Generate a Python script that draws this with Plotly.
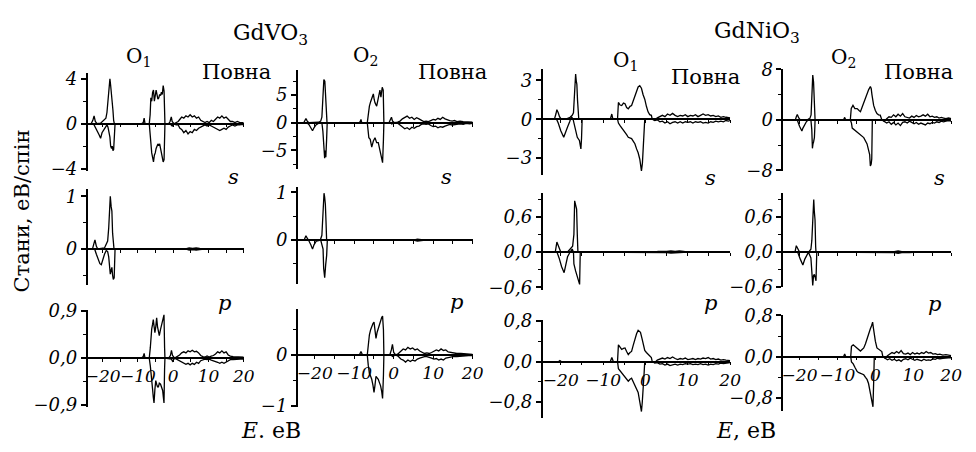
import plotly.graph_objects as go

W, H = 976, 452
FONT = "DejaVu Serif"

# ---------------- data: (E, DOS) pairs, spin up (>0) and spin down (<0) ----------------
# GdVO3, O1
VO1_TOT_UP = [(-24.5,0),(-23.3,0),(-22.8,0.3),(-22.45,0.7),(-22.1,0.2),(-21.6,0),(-20.6,0.05),(-19.6,0.3),(-19.1,0.5),(-18.8,1.0),(-18.5,2.0),(-18.2,3.2),(-17.96,4.0),(-17.75,3.4),(-17.5,2.6),(-17.3,2.4),(-17.1,1.2),(-16.9,0.3),(-16.7,0),(-9.0,0),(-8.5,0.1),(-8.25,0.5),(-8.0,0),(-6.8,0),(-6.55,0.8),(-6.35,2.3),(-6.1,2.0),(-5.85,2.8),(-5.6,3.0),(-5.35,2.0),(-5.1,2.4),(-4.85,3.0),(-4.6,2.6),(-4.35,2.2),(-4.1,2.3),(-3.85,2.6),(-3.6,2.5),(-3.35,2.8),(-3.1,2.6),(-2.85,3.4),(-2.6,2.9),(-2.45,0.8),(-2.35,0),(-1.3,0),(-0.9,0.2),(-0.55,0.6),(-0.3,0.2),(0.2,0),(0.8,0.1),(1.4,0.2),(1.9,0.4),(2.4,0.6),(3.0,0.5),(3.6,0.7),(4.2,0.6),(4.8,0.8),(5.4,0.6),(6.0,0.7),(6.6,0.5),(7.2,0.6),(7.8,0.3),(8.4,0.2),(9.0,0.1),(9.6,0.2),(10.2,0.1),(10.8,0.3),(11.4,0.2),(12.0,0.4),(12.6,0.6),(13.2,0.5),(13.8,0.7),(14.4,0.5),(15.0,0.6),(15.6,0.4),(16.2,0.2),(16.8,0.2),(17.5,0.1),(18.2,0.2),(18.9,0.1),(19.5,0.1),(20.0,0.1)]
VO1_TOT_DN = [(-24.5,0),(-22.8,0),(-22.45,-0.1),(-22.1,-0.3),(-21.6,-0.7),(-21.0,-1.0),(-20.6,-1.3),(-20.2,-0.8),(-19.6,-0.5),(-19.1,-0.3),(-18.8,-0.1),(-18.5,-0.3),(-18.2,-0.7),(-17.96,-1.2),(-17.75,-2.0),(-17.5,-2.2),(-17.3,-2.0),(-17.1,-2.4),(-16.9,-2.3),(-16.7,-1.2),(-16.5,0),(-6.8,0),(-6.55,-1.0),(-6.35,-2.0),(-6.1,-2.6),(-5.85,-3.0),(-5.6,-3.4),(-5.35,-2.8),(-5.1,-2.6),(-4.85,-2.2),(-4.6,-2.0),(-4.35,-1.8),(-4.1,-1.9),(-3.85,-1.8),(-3.6,-2.2),(-3.35,-2.6),(-3.1,-2.9),(-2.85,-3.4),(-2.6,-3.2),(-2.45,-1.0),(-2.35,0),(-0.9,0),(-0.55,-0.1),(-0.3,-0.2),(0.2,0),(0.8,-0.1),(1.4,-0.1),(1.9,-0.4),(2.4,-0.5),(3.0,-0.8),(3.6,-0.6),(4.2,-0.9),(4.8,-0.7),(5.4,-0.8),(6.0,-0.5),(6.6,-0.6),(7.2,-0.4),(7.8,-0.3),(8.4,-0.2),(9.0,-0.1),(9.6,-0.2),(10.2,-0.1),(10.8,-0.2),(11.4,-0.3),(12.0,-0.4),(12.6,-0.5),(13.2,-0.6),(13.8,-0.5),(14.4,-0.4),(15.0,-0.5),(15.6,-0.3),(16.2,-0.2),(16.8,-0.1),(17.5,-0.2),(18.2,-0.1),(18.9,-0.1),(19.5,-0.05),(20.0,-0.1)]
VO1_S_UP = [(-24.5,0),(-22.9,0),(-22.5,0.1),(-22.2,0.17),(-21.8,0.05),(-21.4,0),(-19.5,0.02),(-19.0,0.08),(-18.6,0.15),(-18.3,0.4),(-18.05,0.8),(-17.85,1.0),(-17.6,0.8),(-17.4,0.72),(-17.2,0.3),(-17.0,0.05),(-16.8,0),(3.5,0),(4.5,0.02),(5.5,0.01),(6.5,0.02),(7.5,0.01),(8.5,0.01),(9.5,0),(20.0,0)]
VO1_S_DN = [(-24.5,0),(-22.3,0),(-21.8,-0.1),(-21.3,-0.2),(-20.8,-0.28),(-20.4,-0.3),(-20.0,-0.2),(-19.5,-0.1),(-19.0,-0.03),(-18.6,-0.05),(-18.3,-0.15),(-18.05,-0.3),(-17.85,-0.48),(-17.6,-0.4),(-17.4,-0.35),(-17.2,-0.5),(-17.0,-0.58),(-16.75,-0.55),(-16.5,0),(3.5,0),(4.5,-0.02),(5.5,-0.01),(6.5,-0.02),(7.5,-0.01),(9.5,0),(20.0,0)]
VO1_P_UP = [(-24.5,0),(-9.0,0),(-8.5,0.03),(-8.25,0.09),(-8.0,0),(-6.8,0),(-6.5,0.2),(-6.3,0.5),(-6.1,0.56),(-5.85,0.65),(-5.65,0.74),(-5.45,0.62),(-5.2,0.49),(-4.95,0.6),(-4.7,0.77),(-4.45,0.6),(-4.2,0.5),(-3.95,0.43),(-3.6,0.55),(-3.3,0.62),(-3.0,0.7),(-2.8,0.78),(-2.62,0.83),(-2.45,0.2),(-2.35,0),(-1.3,0),(-0.8,0.05),(-0.5,0.15),(-0.2,0.05),(0.4,0),(1.0,0.02),(1.8,0.06),(2.4,0.1),(3.0,0.12),(3.6,0.1),(4.2,0.14),(4.8,0.12),(5.4,0.15),(6.0,0.12),(6.6,0.13),(7.2,0.1),(7.8,0.05),(8.4,0.03),(9.0,0.02),(9.6,0.04),(10.2,0.02),(10.8,0.04),(11.4,0.05),(12.0,0.08),(12.6,0.12),(13.2,0.1),(13.8,0.14),(14.4,0.1),(15.0,0.12),(15.6,0.06),(16.2,0.04),(17.0,0.03),(18.0,0.03),(19.0,0.02),(20.0,0.02)]
VO1_P_DN = [(-24.5,0),(-6.8,0),(-6.5,-0.15),(-6.3,-0.35),(-6.1,-0.43),(-5.85,-0.6),(-5.65,-0.75),(-5.45,-0.86),(-5.2,-0.6),(-4.95,-0.43),(-4.7,-0.5),(-4.45,-0.55),(-4.2,-0.55),(-3.95,-0.48),(-3.6,-0.5),(-3.3,-0.58),(-3.0,-0.62),(-2.8,-0.75),(-2.62,-0.86),(-2.45,-0.2),(-2.35,0),(-0.5,-0.02),(-0.2,-0.06),(0.4,0),(1.0,-0.02),(1.8,-0.05),(2.4,-0.08),(3.0,-0.1),(3.6,-0.12),(4.2,-0.1),(4.8,-0.13),(5.4,-0.1),(6.0,-0.12),(6.6,-0.08),(7.2,-0.1),(7.8,-0.05),(8.4,-0.03),(9.0,-0.02),(9.6,-0.03),(10.2,-0.02),(10.8,-0.04),(11.4,-0.05),(12.0,-0.07),(12.6,-0.08),(13.2,-0.1),(13.8,-0.08),(14.4,-0.1),(15.0,-0.08),(15.6,-0.05),(16.2,-0.03),(17.0,-0.03),(18.0,-0.02),(19.0,-0.02),(20.0,-0.02)]

# GdVO3, O2
VO2_TOT_UP = [(-24.5,0),(-22.8,0),(-22.5,0.4),(-22.24,0.75),(-21.9,0.3),(-21.5,0),(-19.0,0.1),(-18.5,0.3),(-18.2,1.0),(-17.95,4.0),(-17.7,7.8),(-17.45,7.5),(-17.25,4.5),(-17.05,0.8),(-16.9,0),(-8.8,0),(-8.5,0.2),(-8.3,0.6),(-8.1,0),(-6.7,0),(-6.55,1.0),(-6.16,3.0),(-5.85,3.8),(-5.57,4.5),(-5.16,5.2),(-4.95,4.2),(-4.74,3.6),(-4.32,3.0),(-3.91,4.8),(-3.49,5.9),(-3.24,4.6),(-2.91,6.4),(-2.66,5.9),(-2.55,2.0),(-2.49,0),(-1.2,0),(-0.8,0.5),(-0.57,1.0),(-0.3,0.3),(0.2,0),(1.0,0.1),(1.6,0.3),(2.2,0.7),(2.8,0.9),(3.4,1.2),(4.0,0.8),(4.6,1.0),(5.2,0.6),(5.8,0.9),(6.4,0.7),(7.0,0.4),(7.6,0.2),(8.2,0.3),(8.8,0.2),(9.4,0.4),(10.0,0.6),(10.6,0.5),(11.2,0.8),(11.8,0.6),(12.4,1.0),(13.0,0.7),(13.6,0.5),(14.2,0.4),(14.8,0.3),(15.4,0.4),(16.0,0.2),(16.8,0.3),(17.6,0.2),(18.4,0.2),(19.2,0.1),(20.0,0.1)]
VO2_TOT_DN = [(-24.5,0),(-22.0,0),(-21.5,-0.3),(-21.0,-0.8),(-20.57,-1.44),(-20.2,-0.9),(-19.7,-0.4),(-19.0,-0.1),(-18.2,0),(-17.95,-1.5),(-17.75,-4.5),(-17.5,-6.4),(-17.35,-5.0),(-17.2,-6.2),(-17.0,-3.0),(-16.85,0),(-6.7,0),(-6.57,-1.5),(-6.3,-2.7),(-5.95,-3.0),(-5.57,-4.4),(-5.16,-3.3),(-4.74,-2.7),(-4.32,-3.6),(-3.91,-3.6),(-3.49,-5.0),(-3.1,-6.1),(-2.82,-7.2),(-2.6,-3.0),(-2.49,0),(-0.8,0),(-0.5,-0.2),(0.2,0),(1.0,-0.1),(1.6,-0.4),(2.2,-0.8),(2.8,-1.1),(3.4,-0.9),(4.0,-1.2),(4.6,-0.8),(5.2,-1.0),(5.8,-0.7),(6.4,-0.6),(7.0,-0.3),(7.6,-0.2),(8.2,-0.3),(8.8,-0.2),(9.4,-0.5),(10.0,-0.7),(10.6,-0.6),(11.2,-0.9),(11.8,-0.7),(12.4,-0.8),(13.0,-0.6),(13.6,-0.5),(14.2,-0.3),(14.8,-0.4),(15.4,-0.3),(16.0,-0.2),(16.8,-0.2),(17.6,-0.3),(18.4,-0.1),(19.2,-0.2),(20.0,-0.1)]
VO2_S_UP = [(-24.5,0),(-22.7,0),(-22.24,0.09),(-21.8,0.02),(-21.4,0),(-18.6,0),(-18.2,0.1),(-18.0,0.4),(-17.82,0.88),(-17.66,0.98),(-17.5,0.9),(-17.32,0.75),(-17.16,0.4),(-17.0,0),(5.0,0),(6.0,0.02),(7.0,0.01),(8.0,0),(20.0,0)]
VO2_S_DN = [(-24.5,0),(-21.6,0),(-21.0,-0.1),(-20.57,-0.19),(-20.2,-0.1),(-19.6,-0.02),(-18.5,0),(-17.9,-0.19),(-17.75,-0.59),(-17.49,-0.79),(-17.24,-0.52),(-16.99,-0.32),(-16.82,0),(5.0,0),(6.0,-0.02),(7.0,-0.01),(8.0,0),(20.0,0)]
VO2_P_UP = [(-24.5,0),(-8.7,0),(-8.3,0.07),(-7.9,0),(-6.7,0),(-6.45,0.2),(-6.16,0.4),(-5.85,0.5),(-5.57,0.58),(-5.25,0.62),(-4.99,0.65),(-4.75,0.5),(-4.49,0.33),(-4.2,0.45),(-3.91,0.52),(-3.6,0.6),(-3.32,0.71),(-3.05,0.74),(-2.82,0.77),(-2.6,0.5),(-2.49,0),(-1.0,0),(-0.6,0.1),(-0.32,0.21),(0.0,0.05),(0.5,0),(1.2,0.03),(1.8,0.08),(2.4,0.12),(3.0,0.1),(3.6,0.15),(4.2,0.12),(4.8,0.14),(5.4,0.1),(6.0,0.12),(6.6,0.08),(7.2,0.05),(7.8,0.03),(8.4,0.04),(9.0,0.03),(9.6,0.05),(10.2,0.07),(10.8,0.1),(11.4,0.08),(12.0,0.12),(12.6,0.09),(13.2,0.1),(13.8,0.06),(14.4,0.05),(15.0,0.04),(16.0,0.03),(17.0,0.03),(18.0,0.02),(19.0,0.02),(20.0,0.01)]
VO2_P_DN = [(-24.5,0),(-6.7,0),(-6.45,-0.2),(-6.16,-0.36),(-5.85,-0.42),(-5.57,-0.48),(-5.25,-0.6),(-4.99,-0.74),(-4.75,-0.6),(-4.49,-0.42),(-4.2,-0.45),(-3.91,-0.48),(-3.6,-0.55),(-3.32,-0.61),(-3.05,-0.72),(-2.82,-0.86),(-2.6,-0.4),(-2.49,0),(-0.6,0),(-0.32,-0.03),(0.5,0),(1.2,-0.03),(1.8,-0.08),(2.4,-0.1),(3.0,-0.14),(3.6,-0.1),(4.2,-0.13),(4.8,-0.1),(5.4,-0.12),(6.0,-0.08),(6.6,-0.06),(7.2,-0.04),(7.8,-0.03),(8.4,-0.03),(9.0,-0.04),(9.6,-0.06),(10.2,-0.08),(10.8,-0.07),(11.4,-0.1),(12.0,-0.08),(12.6,-0.1),(13.2,-0.06),(13.8,-0.05),(14.4,-0.04),(15.0,-0.03),(16.0,-0.03),(17.0,-0.02),(18.0,-0.02),(19.0,-0.01),(20.0,-0.01)]

# GdNiO3, O1
NI1_TOT_UP = [(-24.5,0),(-21.5,0),(-21.15,0.4),(-20.92,0.74),(-20.6,0.5),(-20.3,0.2),(-19.9,0),(-18.5,0.05),(-17.8,0.15),(-17.3,0.3),(-17.0,0.5),(-16.8,1.5),(-16.65,2.8),(-16.49,3.5),(-16.35,3.0),(-16.2,2.7),(-16.05,1.5),(-15.9,0.4),(-15.75,0),(-8.3,0),(-7.95,0.4),(-7.7,0),(-6.6,0),(-6.39,1.3),(-6.0,1.1),(-5.61,1.06),(-5.2,1.25),(-4.83,1.2),(-4.45,0.9),(-4.06,0.8),(-3.65,1.0),(-3.28,1.06),(-2.9,1.4),(-2.5,1.8),(-2.1,2.2),(-1.73,2.5),(-1.35,2.6),(-0.95,2.4),(-0.56,1.9),(-0.17,1.55),(0.22,1.0),(0.61,0.57),(1.0,0.35),(1.39,0.3),(1.6,0),(2.2,-0.05),(2.8,0.1),(3.4,0.2),(4.0,0.3),(4.6,0.2),(5.2,0.4),(5.8,0.3),(6.4,0.45),(7.0,0.3),(7.6,0.2),(8.2,0.3),(8.8,0.25),(9.4,0.35),(10.0,0.2),(10.6,0.3),(11.2,0.25),(11.8,0.35),(12.4,0.2),(13.0,0.3),(13.6,0.4),(14.2,0.3),(14.8,0.35),(15.4,0.25),(16.0,0.3),(16.6,0.2),(17.2,0.25),(17.8,0.15),(18.4,0.2),(19.0,0.15),(19.6,0.1),(20.0,0.1)]
NI1_TOT_DN = [(-24.5,0),(-21.0,0),(-20.6,-0.3),(-20.0,-0.9),(-19.3,-1.4),(-18.9,-1.0),(-18.4,-0.6),(-17.9,-0.2),(-17.5,0.2),(-17.1,0),(-16.8,-0.5),(-16.5,-0.9),(-16.1,-1.4),(-15.6,-1.65),(-15.25,-2.3),(-15.1,-1.5),(-14.95,0),(-6.6,0),(-6.39,-0.3),(-6.0,-0.5),(-5.61,-0.66),(-5.2,-0.85),(-4.83,-1.04),(-4.45,-1.2),(-4.06,-1.4),(-3.65,-1.45),(-3.28,-1.5),(-2.9,-1.7),(-2.5,-1.9),(-2.1,-2.3),(-1.73,-2.6),(-1.34,-3.1),(-1.1,-3.6),(-0.95,-4.0),(-0.72,-3.4),(-0.4,-1.6),(-0.17,0),(1.6,0),(2.2,-0.1),(2.8,-0.05),(3.4,-0.2),(4.0,-0.15),(4.6,-0.3),(5.2,-0.2),(5.8,-0.35),(6.4,-0.25),(7.0,-0.2),(7.6,-0.3),(8.2,-0.2),(8.8,-0.3),(9.4,-0.2),(10.0,-0.25),(10.6,-0.2),(11.2,-0.3),(11.8,-0.2),(12.4,-0.25),(13.0,-0.2),(13.6,-0.3),(14.2,-0.25),(14.8,-0.3),(15.4,-0.2),(16.0,-0.25),(16.6,-0.15),(17.2,-0.2),(17.8,-0.15),(18.4,-0.2),(19.0,-0.1),(19.6,-0.15),(20.0,-0.1)]
NI1_S_UP = [(-24.5,0),(-21.3,0),(-20.92,0.17),(-20.5,0.08),(-20.0,0),(-18.4,0),(-17.8,0.05),(-17.2,0.1),(-16.9,0.3),(-16.72,0.87),(-16.5,0.8),(-16.26,0.73),(-16.1,0.3),(-15.95,0),(2.0,0),(3.0,0.01),(5.0,0.01),(6.0,0.02),(7.0,0.01),(8.0,0.02),(9.0,0.01),(10.0,0),(20.0,0)]
NI1_S_DN = [(-24.5,0),(-20.9,0),(-20.4,-0.1),(-19.8,-0.25),(-19.21,-0.35),(-18.8,-0.2),(-18.4,-0.08),(-17.8,0),(-17.3,0.05),(-17.0,0),(-16.9,-0.2),(-16.5,-0.32),(-16.26,-0.38),(-15.9,-0.43),(-15.55,-0.55),(-15.4,0),(2.0,0),(3.0,-0.01),(5.0,-0.01),(6.0,-0.02),(7.0,-0.01),(8.0,-0.01),(10.0,0),(20.0,0)]
NI1_P_UP = [(-24.5,0),(-20.5,0),(-20.2,0.02),(-19.9,0),(-8.3,0),(-7.94,0.08),(-7.6,0),(-6.6,0),(-6.39,0.33),(-6.0,0.28),(-5.61,0.24),(-5.2,0.26),(-4.83,0.27),(-4.45,0.2),(-4.06,0.14),(-3.65,0.18),(-3.28,0.2),(-2.9,0.32),(-2.5,0.46),(-2.1,0.55),(-1.73,0.62),(-1.45,0.6),(-1.18,0.58),(-0.8,0.45),(-0.56,0.33),(-0.17,0.22),(0.22,0.18),(0.61,0.14),(1.0,0.11),(1.39,0.08),(1.6,0),(2.2,-0.02),(2.8,0.03),(3.4,0.05),(4.0,0.07),(4.6,0.05),(5.2,0.08),(5.8,0.06),(6.4,0.09),(7.0,0.06),(7.6,0.04),(8.2,0.06),(8.8,0.05),(9.4,0.07),(10.0,0.04),(10.6,0.05),(11.2,0.06),(11.8,0.04),(12.4,0.06),(13.0,0.05),(13.6,0.07),(14.2,0.06),(14.8,0.08),(15.4,0.05),(16.0,0.06),(16.6,0.04),(17.2,0.05),(17.8,0.03),(18.4,0.04),(19.0,0.03),(20.0,0.02)]
NI1_P_DN = [(-24.5,0),(-6.6,0),(-6.39,-0.14),(-6.0,-0.18),(-5.61,-0.23),(-5.2,-0.27),(-4.83,-0.3),(-4.45,-0.35),(-4.06,-0.39),(-3.65,-0.35),(-3.28,-0.33),(-2.9,-0.4),(-2.5,-0.48),(-2.1,-0.55),(-1.73,-0.61),(-1.34,-0.8),(-1.1,-0.9),(-0.95,-0.99),(-0.75,-0.8),(-0.56,-0.6),(-0.3,-0.2),(-0.17,0),(1.6,0),(2.2,-0.03),(2.8,-0.02),(3.4,-0.05),(4.0,-0.04),(4.6,-0.07),(5.2,-0.05),(5.8,-0.08),(6.4,-0.06),(7.0,-0.05),(7.6,-0.07),(8.2,-0.05),(8.8,-0.06),(9.4,-0.04),(10.0,-0.05),(10.6,-0.04),(11.2,-0.06),(11.8,-0.05),(12.4,-0.06),(13.0,-0.04),(13.6,-0.06),(14.2,-0.05),(14.8,-0.07),(15.4,-0.05),(16.0,-0.06),(16.6,-0.04),(17.2,-0.05),(17.8,-0.03),(18.4,-0.04),(19.0,-0.03),(20.0,-0.02)]

# GdNiO3, O2
NI2_TOT_UP = [(-24.5,0),(-21.1,0),(-20.85,0.5),(-20.59,0.86),(-20.2,0.3),(-19.8,0),(-18.0,0),(-17.3,0.2),(-16.95,0.8),(-16.75,3.5),(-16.51,7.1),(-16.3,6.0),(-16.1,2.0),(-15.9,0),(-8.4,0),(-8.09,0.4),(-7.8,0),(-6.6,0),(-6.36,1.8),(-5.9,2.3),(-5.4,1.8),(-4.8,1.8),(-4.3,1.5),(-3.93,1.3),(-3.5,2.0),(-3.06,2.8),(-2.6,3.5),(-2.19,4.3),(-1.76,4.8),(-1.32,5.3),(-1.1,5.0),(-0.9,4.0),(-0.45,2.3),(0.0,1.5),(0.42,1.0),(0.85,0.8),(1.28,0.75),(1.72,0),(2.4,-0.2),(3.0,0.2),(3.6,0.5),(4.2,0.4),(4.8,0.8),(5.4,0.5),(6.0,0.9),(6.6,0.6),(7.2,1.0),(7.8,0.5),(8.4,0.4),(9.0,0.3),(9.6,0.6),(10.2,0.4),(10.8,0.7),(11.4,0.5),(12.0,0.6),(12.6,0.8),(13.2,0.6),(13.8,0.9),(14.4,0.5),(15.0,0.6),(15.6,0.4),(16.2,0.5),(16.8,0.3),(17.4,0.4),(18.0,0.3),(18.6,0.2),(19.3,0.3),(20.0,0.2)]
NI2_TOT_DN = [(-24.5,0),(-20.6,0),(-20.0,-1.0),(-19.38,-1.77),(-19.1,-1.3),(-18.6,-0.7),(-18.2,-0.3),(-17.6,0.1),(-17.0,0),(-16.77,-1.5),(-16.6,-4.5),(-16.45,-3.8),(-16.3,-3.5),(-16.08,-2.8),(-15.95,-1.0),(-15.9,0),(-6.6,0),(-6.3,-0.5),(-6.1,-1.3),(-5.5,-1.6),(-4.79,-1.8),(-3.93,-2.3),(-3.06,-2.8),(-2.19,-3.8),(-1.76,-4.8),(-1.5,-5.5),(-1.32,-7.3),(-1.1,-7.0),(-0.95,-6.2),(-0.8,0),(1.72,0),(2.4,-0.3),(3.0,-0.5),(3.6,-0.3),(4.2,-0.7),(4.8,-0.4),(5.4,-0.8),(6.0,-0.5),(6.6,-0.9),(7.2,-0.4),(7.8,-0.3),(8.4,-0.5),(9.0,-0.2),(9.6,-0.4),(10.2,-0.6),(10.8,-0.4),(11.4,-0.7),(12.0,-0.5),(12.6,-0.6),(13.2,-0.8),(13.8,-0.5),(14.4,-0.6),(15.0,-0.4),(15.6,-0.5),(16.2,-0.3),(16.8,-0.4),(17.4,-0.2),(18.0,-0.3),(18.6,-0.2),(19.3,-0.1),(20.0,-0.2)]
NI2_S_UP = [(-24.5,0),(-21.2,0),(-20.85,0.11),(-20.3,0.03),(-20.0,0),(-17.6,0),(-17.0,0.05),(-16.75,0.2),(-16.6,0.5),(-16.4,0.8),(-16.25,0.9),(-16.1,0.7),(-15.91,0.55),(-15.75,0.1),(-15.65,0),(1.5,0),(3.0,0.01),(5.0,0.01),(6.0,0.02),(7.0,0.01),(8.0,0.01),(9.0,0.02),(10.0,0.01),(11.0,0),(20.0,0)]
NI2_S_DN = [(-24.5,0),(-20.5,0),(-19.8,-0.12),(-19.12,-0.22),(-18.6,-0.12),(-18.25,-0.08),(-17.64,0),(-17.0,-0.1),(-16.75,-0.3),(-16.51,-0.57),(-16.3,-0.4),(-16.08,-0.38),(-15.8,-0.45),(-15.65,-0.49),(-15.45,0),(1.5,0),(3.0,-0.01),(5.0,-0.01),(6.0,-0.02),(7.0,-0.01),(9.0,-0.01),(11.0,0),(20.0,0)]
NI2_P_UP = [(-24.5,0),(-8.4,0),(-8.09,0.05),(-7.8,0),(-6.5,0),(-6.3,0.2),(-5.84,0.23),(-5.3,0.2),(-4.79,0.17),(-4.35,0.13),(-3.93,0.11),(-3.5,0.14),(-3.06,0.17),(-2.6,0.25),(-2.19,0.36),(-1.76,0.45),(-1.32,0.54),(-1.0,0.6),(-0.72,0.67),(-0.5,0.55),(-0.28,0.42),(0.0,0.3),(0.42,0.17),(0.85,0.14),(1.28,0.11),(1.7,0.1),(1.98,0),(2.6,-0.03),(3.2,0.02),(3.8,0.05),(4.4,0.08),(5.0,0.06),(5.6,0.1),(6.2,0.07),(6.8,0.12),(7.4,0.06),(8.0,0.05),(8.6,0.07),(9.2,0.04),(9.8,0.08),(10.4,0.05),(11.0,0.07),(11.6,0.05),(12.2,0.08),(12.8,0.06),(13.4,0.1),(14.0,0.07),(14.6,0.08),(15.2,0.05),(15.8,0.06),(16.4,0.04),(17.0,0.05),(17.8,0.03),(18.6,0.04),(19.3,0.03),(20.0,0.02)]
NI2_P_DN = [(-24.5,0),(-6.5,0),(-6.3,-0.1),(-5.84,-0.14),(-5.3,-0.22),(-4.79,-0.29),(-4.35,-0.31),(-3.93,-0.32),(-3.5,-0.33),(-3.06,-0.35),(-2.6,-0.4),(-2.19,-0.44),(-1.8,-0.52),(-1.5,-0.63),(-1.2,-0.75),(-0.89,-0.88),(-0.63,-0.97),(-0.45,-0.5),(-0.28,0),(1.98,0),(2.6,-0.04),(3.2,-0.06),(3.8,-0.04),(4.4,-0.07),(5.0,-0.05),(5.6,-0.08),(6.2,-0.06),(6.8,-0.09),(7.4,-0.05),(8.0,-0.04),(8.6,-0.06),(9.2,-0.03),(9.8,-0.05),(10.4,-0.07),(11.0,-0.05),(11.6,-0.06),(12.2,-0.08),(12.8,-0.05),(13.4,-0.07),(14.0,-0.06),(14.6,-0.07),(15.2,-0.04),(15.8,-0.05),(16.4,-0.03),(17.0,-0.04),(17.8,-0.03),(18.6,-0.02),(19.3,-0.02),(20.0,-0.02)]

E_TICKS = [-20, -10, 0, 10, 20]
E_TICK_TEXT = ["\u221220", "\u221210", "0", "10", "20"]
E_MINOR = [-15, -5, 5, 15]
E_RANGE = [-24.5, 20]

# ---------------- layout of the 12 panels (pixel boxes) ----------------
COL_X = [(86, 245), (299, 477), (547, 738), (791, 962)]
M = "\u2212"
PANELS = [
    # (row, col, up, dn, (top_px, bottom_px), yrange, major ticks, tick text, minor ticks)
    (0, 0, VO1_TOT_UP, VO1_TOT_DN, (66, 168), (-4.17, 4.51), [-4, 0, 4], [M+"4", "0", "4"], [-2, 2]),
    (0, 1, VO2_TOT_UP, VO2_TOT_DN, (63, 166), (-8.28, 9.48), [-5, 0, 5], [M+"5", "0", "5"], [-7.5, -2.5, 2.5, 7.5]),
    (0, 2, NI1_TOT_UP, NI1_TOT_DN, (62, 173), (-4.35, 3.87), [-3, 0, 3], [M+"3", "0", "3"], [-1.5, 1.5]),
    (0, 3, NI2_TOT_UP, NI2_TOT_DN, (62, 168), (-8.03, 8.03), [-8, 0, 8], [M+"8", "0", "8"], [-4, 4]),
    (1, 0, VO1_S_UP, VO1_S_DN, (187, 288), (-0.69, 1.145), [0, 1], ["0", "1"], [-0.5, 0.5]),
    (1, 1, VO2_S_UP, VO2_S_DN, (185, 287), (-0.926, 1.114), [0, 1], ["0", "1"], [-0.5, 0.5]),
    (1, 2, NI1_S_UP, NI1_S_DN, (191, 293), (-0.645, 1.01), [-0.6, 0, 0.6], [M+"0,6", "0,0", "0,6"], [-0.3, 0.3, 0.9]),
    (1, 3, NI2_S_UP, NI2_S_DN, (191, 290), (-0.6, 1.02), [-0.6, 0, 0.6], [M+"0,6", "0,0", "0,6"], [-0.3, 0.3, 0.9]),
    (2, 0, VO1_P_UP, VO1_P_DN, (314, 415), (-0.93, 0.92), [-0.9, 0, 0.9], [M+"0,9", "0,0", "0,9"], [-0.45, 0.45]),
    (2, 1, VO2_P_UP, VO2_P_DN, (313, 415), (-1.02, 0.906), [-1, 0], [M+"1", "0"], [-0.5, 0.5]),
    (2, 2, NI1_P_UP, NI1_P_DN, (324, 427), (-1.12, 0.83), [-0.8, 0, 0.8], [M+"0,8", "0,0", "0,8"], [-0.4, 0.4]),
    (2, 3, NI2_P_UP, NI2_P_DN, (319, 420), (-1.06, 0.81), [-0.8, 0, 0.8], [M+"0,8", "0,0", "0,8"], [-0.4, 0.4]),
]

ytickfont = dict(family=FONT, size=18, color="black", style="italic")
xtickfont = dict(family=FONT, size=17, color="black", style="italic")
fig = go.Figure()
layout = {}

for i, (row, col, up, dn, (top, bot), yr, major, mtext, minor) in enumerate(PANELS):
    n = i + 1
    xs = "" if n == 1 else str(n)
    x0, x1 = COL_X[col]
    dom_x = [x0 / W, x1 / W]
    dom_y = [1 - bot / H, 1 - top / H]
    zero_pos = dom_y[0] + (0 - yr[0]) / (yr[1] - yr[0]) * (dom_y[1] - dom_y[0])
    layout["xaxis" + xs] = dict(
        domain=dom_x, range=E_RANGE, anchor="free", position=zero_pos,
        showline=True, linecolor="black", linewidth=1.5, showgrid=False, zeroline=False,
        ticks="outside", ticklen=3, tickwidth=1.2, tickcolor="black",
        tickvals=E_TICKS, ticktext=E_TICK_TEXT, showticklabels=(row == 2),
        tickfont=xtickfont, tickangle=0, ticklabelstandoff=0,
        minor=dict(tickvals=E_MINOR, ticks="outside", ticklen=3, tickwidth=1.2, tickcolor="black", showgrid=False),
    )
    layout["yaxis" + xs] = dict(
        domain=dom_y, range=list(yr), anchor="free", position=dom_x[0],
        showline=True, linecolor="black", linewidth=2, showgrid=False, zeroline=False,
        ticks="outside", ticklen=5, tickwidth=1.5, tickcolor="black",
        tickvals=major, ticktext=mtext, tickfont=ytickfont,
        minor=dict(tickvals=minor, ticks="outside", ticklen=3, tickwidth=1.2, tickcolor="black", showgrid=False),
    )
    for curve in (up, dn):
        fig.add_trace(go.Scatter(
            x=[p[0] for p in curve], y=[p[1] for p in curve],
            xaxis="x" + xs, yaxis="y" + xs, mode="lines",
            line=dict(color="black", width=1.3), showlegend=False, hoverinfo="skip",
        ))

def ann(text, px, py, size=19, italic=False, angle=0):
    return dict(text=text, x=px / W, y=1 - py / H, xref="paper", yref="paper",
                xanchor="center", yanchor="middle", showarrow=False, textangle=angle,
                font=dict(family=FONT, size=size, color="black", style="italic" if italic else "normal"))

annotations = [
    ann("GdVO<sub>3</sub>", 272, 26, size=22),
    ann("GdNiO<sub>3</sub>", 765, 24, size=22),
    ann("O<sub>1</sub>", 138, 49, size=20),
    ann("O<sub>2</sub>", 368, 48, size=20),
    ann("O<sub>1</sub>", 632, 53, size=20),
    ann("O<sub>2</sub>", 853, 50, size=20),
    ann("Повна", 238, 65, size=21),
    ann("Повна", 457, 65, size=21),
    ann("Повна", 713, 70, size=21),
    ann("Повна", 929, 65, size=21),
    ann("s", 235, 175, size=21, italic=True),
    ann("s", 450, 175, size=21, italic=True),
    ann("s", 718, 176, size=21, italic=True),
    ann("s", 950, 176, size=21, italic=True),
    ann("p", 225, 307, size=21, italic=True),
    ann("p", 461, 305, size=21, italic=True),
    ann("p", 718, 307, size=21, italic=True),
    ann("p", 945, 308, size=21, italic=True),
    ann("Стани, еВ/спін", 20, 210, size=21, angle=-90),
    ann("<i>E</i>. еВ", 273, 440, size=22),
    ann("<i>E</i>, еВ", 754, 440, size=22),
]

fig.update_layout(
    width=W, height=H, margin=dict(l=0, r=0, t=0, b=0),
    paper_bgcolor="white", plot_bgcolor="white",
    font=dict(family=FONT, color="black"),
    annotations=annotations, showlegend=False,
    **layout,
)

fig.write_html(
    "out.html",
    config={"displayModeBar": False},
    post_script="document.body.style.margin='0';document.body.style.padding='0';document.body.style.overflow='hidden';",
)
